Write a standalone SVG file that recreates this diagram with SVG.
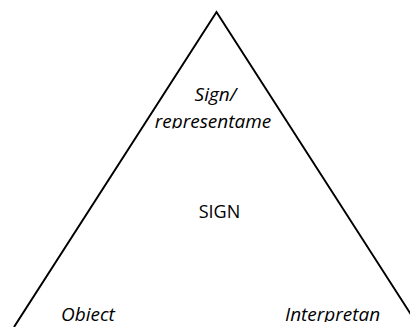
<svg xmlns="http://www.w3.org/2000/svg" width="410" height="327" viewBox="0 0 410 327">
<style>
.lbl{font-family:"Open Sans","Liberation Sans",sans-serif;font-size:18px;fill:#000}
.it{font-style:italic;font-size:19px}
.tri{fill:none;stroke:#000;stroke-width:2}
</style>
<defs>
<clipPath id="clipTop"><rect x="0" y="0" width="410" height="128.5"/></clipPath>
<clipPath id="clipBottom"><rect x="0" y="0" width="410" height="322"/></clipPath>
</defs>
<rect width="410" height="327" fill="#fff"/>
<g id="triangle">
<polyline class="tri" points="14,327 216.5,12 419,327"/>
</g>
<g id="sign-representame">
<text class="lbl it" x="215.5" y="100.5" text-anchor="middle">Sign/</text>
<text class="lbl it" x="213" y="128" text-anchor="middle" clip-path="url(#clipTop)">representame</text>
</g>
<g id="sign">
<text class="lbl" x="219.5" y="217.5" text-anchor="middle">SIGN</text>
</g>
<g id="object">
<text class="lbl it" x="61" y="321" clip-path="url(#clipBottom)">Obiect</text>
</g>
<g id="interpretant">
<text class="lbl it" x="285" y="321" clip-path="url(#clipBottom)">Interpretan</text>
</g>
<g id="connectors"></g>
</svg>
